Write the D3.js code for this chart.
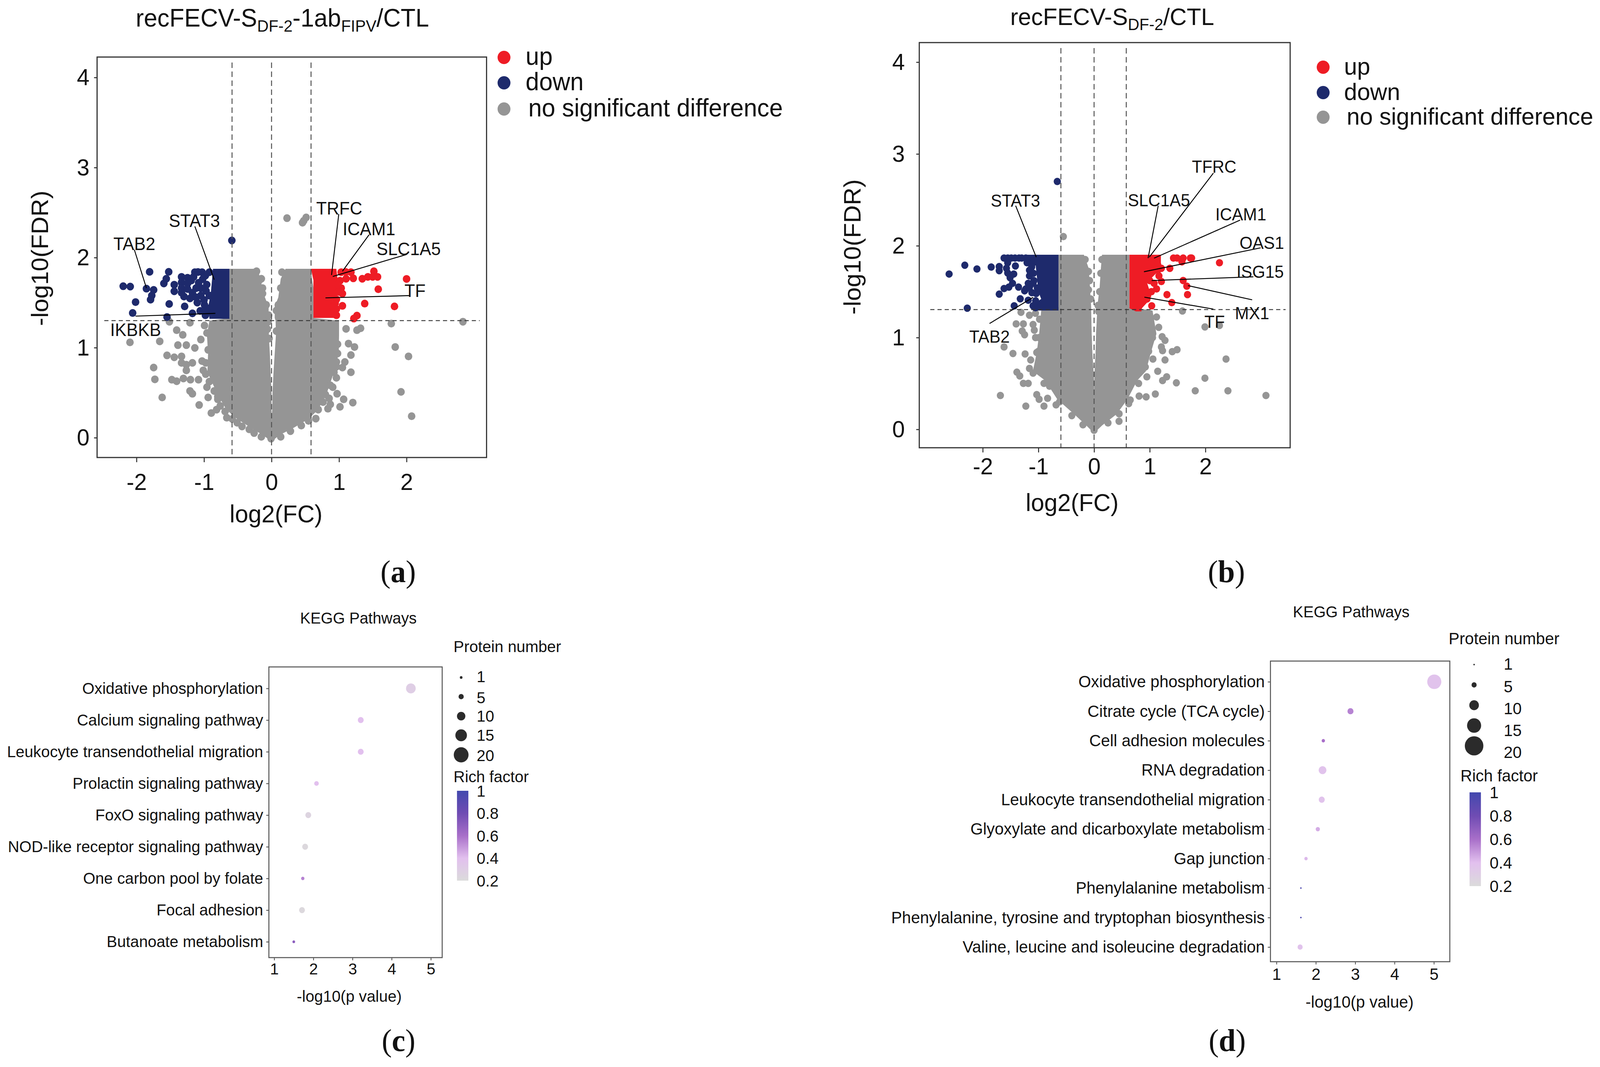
<!DOCTYPE html>
<html>
<head>
<meta charset="utf-8">
<script src="https://cdn.jsdelivr.net/npm/d3@7"></script>
<style>
html, body { margin: 0; padding: 0; background: #fff; overflow: hidden; }
svg { display: block; width: 100vw; height: 100vh; }
text { font-family: "Liberation Sans", Arial, sans-serif; fill: #111; }
</style>
</head>
<body>
<svg id="chart" viewBox="0 0 4219 2731" preserveAspectRatio="none"></svg>
<script>
//panel a: [log2FC, -log10FDR]
var downA = [[-2.197,1.682],[-2.093,1.678],[-1.806,1.842],[-1.523,1.842],[-1.853,1.655],[-1.746,1.641],[-1.774,1.578],[-1.792,1.533],[-2.014,1.506],[-2.057,1.385],[-1.516,1.485],[-1.548,1.34],[-1.559,1.765],[-1.595,1.713],[-1.441,1.699],[-1.441,1.626],[-1.287,1.458],[-1.172,1.381],[-1.057,1.408],[-1.1,1.5],[-1.208,1.547],[-1.297,1.568],[-1.333,1.786],[-1.333,1.724],[-1.333,1.661],[-1.333,1.61],[-1.244,1.776],[-1.244,1.713],[-1.244,1.651],[-1.19,1.745],[-1.136,1.838],[-1.029,1.838],[-0.921,1.838],[-1.154,1.786],[-1.047,1.661],[-1.047,1.578],[-0.993,1.475],[-0.921,1.578],[-1.118,1.661],[-1.172,1.61],[-0.588,2.19],[-1.02,1.76],[-0.96,1.7],[-0.95,1.4],[-0.98,1.36],[-1.09,1.84],[-0.98,1.8],[-1.08,1.72],[-0.97,1.63],[-1.0,1.53],[-1.12,1.56],[-0.96,1.44]];
var upA = [[2.0,1.763],[1.581,1.649],[1.821,1.458],[1.38,1.489],[1.05,1.464],[1.265,1.356],[1.219,1.323],[0.961,1.429],[1.516,1.848],[1.498,1.786],[1.57,1.786],[1.427,1.786],[1.344,1.765],[1.211,1.77],[1.104,1.765],[1.176,1.838],[1.032,1.838],[1.032,1.661],[1.05,1.6],[0.961,1.537],[0.943,1.495],[1.014,1.743],[0.996,1.62],[0.907,1.454],[0.907,1.381],[0.961,1.36],[1.1,1.84],[0.98,1.7]];
var nsA = [[0.229,2.438],[0.477,2.409],[0.513,2.446],[0.459,2.388],[2.835,1.288],[1.774,1.267],[1.832,1.007],[2.029,0.903],[1.918,0.509],[2.075,0.239],[1.319,1.215],[1.265,1.194],[1.104,1.209],[1.14,1.045],[1.229,1.007],[1.176,0.918],[1.176,0.727],[1.086,0.841],[0.961,0.841],[1.05,0.779],[0.961,0.789],[0.971,0.488],[1.068,0.426],[1.204,0.39],[1.014,0.343],[0.871,0.37],[0.835,0.322],[0.763,0.395],[0.656,0.212],[-2.097,1.059],[-1.656,1.07],[-1.405,1.194],[-1.315,1.142],[-1.387,1.028],[-1.262,1.028],[-1.208,1.277],[-1.513,1.288],[-1.548,0.914],[-1.441,0.893],[-1.333,0.903],[-1.333,0.831],[-1.262,0.81],[-1.172,0.831],[-1.262,0.748],[-1.746,0.779],[-1.728,0.648],[-1.477,0.644],[-1.405,0.627],[-1.305,0.658],[-1.201,0.644],[-1.082,0.644],[-1.208,0.519],[-1.172,0.488],[-1.62,0.447],[-1.072,0.363],[-0.939,0.447],[-0.892,0.274],[-0.814,0.312],[-0.663,0.222],[-1.047,1.09],[-1.136,0.997],[-1.029,0.851],[-0.975,0.706],[-0.796,0.426],
  //dots along the edge of the dense cloud
  [-0.222,1.848],[-0.186,1.745],[-0.151,1.765],[-0.133,1.661],[-0.133,1.6],[-0.079,1.475],[-0.043,1.36],[-0.05,1.288],[-0.061,1.205],[-0.036,1.101],[0.154,1.838],[0.136,1.661],[0.1,1.475],[0.072,1.412],[0.072,1.184],[0.978,1.038],[0.978,0.935],[0.925,0.727],[0.961,0.665],[0.907,0.561],[0.853,0.436],[0.871,0.582],[0.799,0.478],[0.692,0.312],[0.548,0.187],[0.441,0.135],[-0.993,1.246],[-0.957,1.163],[-0.939,0.976],[-0.975,0.831],[-1.011,0.748],[-0.957,0.561],[-0.921,0.623],[-0.849,0.519],[-0.796,0.457],[-0.76,0.353],[-0.688,0.291],[-0.581,0.208],[-0.509,0.166],[-0.437,0.125],[-0.33,0.093],[-0.258,0.052],[-0.151,0.01],[-0.007,-0.01],[0.136,0.01],[0.28,0.073]];
//dense cloud where single dots cannot be read: [y, outer left, inner left, inner right, outer right]
var nsRowsA = [[1.875,-0.624,-0.204,0.208,0.584],[1.765,-0.624,-0.168,0.136,0.6],[1.661,-0.624,-0.133,0.118,0.62],[1.558,-0.624,-0.097,0.1,0.62],[1.454,-0.624,-0.043,0.047,0.62],[1.329,-0.624,-0.043,0.047,0.62],[1.3,-0.92,-0.03,0.06,1.0],[1.142,-0.957,-0.04,0.065,1.0],[0.935,-0.94,-0.025,0.047,0.996],[0.727,-0.95,-0.014,0.029,0.925],[0.498,-0.81,0,0.014,0.82],[0.312,-0.67,0,0.01,0.69],[0.208,-0.51,0,0,0.55],[0.104,-0.294,0,0,0.315],[0.03,-0.13,0,0,0.118],[-0.03,-0.02,0,0,0.02]];
var downRowsA = [[1.875,-0.867,-0.624],[1.6,-0.9,-0.624],[1.45,-0.939,-0.624],[1.32,-0.92,-0.624]];
var upRowsA = [[1.875,0.584,0.96],[1.75,0.62,0.98],[1.6,0.62,1.0],[1.52,0.62,0.9],[1.42,0.62,0.9],[1.33,0.62,0.98]];
//gene, label x, label y, line start x, line start y, line end x, line end y
var genesA = [["TAB2",-2.032,2.156,-2.032,2.087,-1.853,1.661],["STAT3",-1.143,2.409,-1.136,2.347,-0.849,1.755],["TRFC",1.003,2.55,0.996,2.482,0.889,1.807],["ICAM1",1.444,2.319,1.444,2.253,1.05,1.848],["SLC1A5",2.03,2.098,2.0,2.035,0.907,1.79],["TF",2.125,1.636,2.054,1.578,0.799,1.553],["IKBKB",-2.014,1.201,-2.014,1.35,-0.832,1.381]];

//panel b
var downB = [[-0.661,2.7],[-2.604,1.692],[-2.322,1.788],[-2.104,1.747],[-1.848,1.768],[-1.704,1.774],[-1.704,1.729],[-1.574,1.754],[-1.552,1.703],[-1.413,1.78],[-1.509,1.652],[-1.465,1.591],[-1.617,1.534],[-1.704,1.473],[-1.53,1.55],[-1.326,1.422],[-1.435,1.346],[-2.278,1.32],[-1.183,1.407],[-1.357,1.55],[-1.226,1.53],[-1.617,1.866],[-1.487,1.866],[-1.348,1.866],[-1.226,1.866],[-1.161,1.733],[-1.161,1.672],[-1.096,1.591],[-1.183,1.591],[-1.248,1.509],[-1.117,1.489],[-1.096,1.346],[-1.052,1.326],[-1.096,1.815],[-1.204,1.815],[-1.552,1.815],[-1.443,1.692],[-1.55,1.866],[-1.42,1.866],[-1.3,1.866],[-1.16,1.55],[-1.05,1.4],[-1.12,1.77],[-1.09,1.7],[-1.08,1.62],[-1.04,1.48],[-1.02,1.54]];
var upB = [[2.252,1.815],[1.426,1.866],[1.491,1.866],[1.6,1.866],[1.73,1.866],[1.752,1.866],[1.578,1.825],[1.361,1.754],[1.6,1.621],[1.665,1.56],[1.678,1.468],[1.309,1.468],[1.396,1.381],[1.035,1.346],[1.209,1.611],[1.122,1.53],[1.165,1.672],[1.078,1.591],[1.143,1.733],[1.209,1.754],[1.143,1.794],[1.0,1.62],[1.03,1.5],[0.95,1.42]];
var nsB = [[-0.552,2.1],[1.587,1.289],[1.991,1.116],[2.252,1.132],[0.078,1.285],[2.37,0.766],[1.991,0.558],[1.817,0.42],[2.404,0.42],[3.087,0.369],[1.478,0.507],[1.304,0.572],[1.23,0.532],[1.1,0.385],[0.935,0.354],[0.809,0.363],[0.448,0.088],[0.622,0.281],[1.274,0.756],[1.057,0.766],[1.491,0.868],[1.404,0.847],[1.23,0.857],[1.209,0.898],[1.274,0.969],[1.222,1.01],[1.161,1.112],[1.122,1.224],[1.143,0.633],[0.948,0.572],[-1.313,1.275],[-1.161,1.244],[-1.052,1.265],[-1.4,1.149],[-1.27,1.149],[-1.291,1.071],[-1.248,1.031],[-1.096,1.143],[-1.074,1.081],[-1.052,1],[-1.617,0.898],[-1.457,0.827],[-1.239,0.821],[-1.03,0.837],[-1.139,0.756],[-1.161,0.664],[-1.096,0.613],[-1.387,0.623],[-1.335,0.582],[-1.27,0.501],[-1.183,0.501],[-0.9,0.501],[-1.683,0.369],[-1.03,0.379],[-0.987,0.328],[-1.226,0.253],[-0.9,0.253],[-0.683,0.267],[-0.835,0.338],
  //dots along the edge of the dense cloud
  [-0.16,1.85],[-0.1,1.72],[-0.08,1.62],[-0.1,1.52],[-0.06,1.42],[0.14,1.85],[0.12,1.7],[0.1,1.5],[0.07,1.35],[1.0,1.18],[1.05,1.0],[0.98,0.85],[0.92,0.68],[0.8,0.5],[0.65,0.32],[0.45,0.17],[0.25,0.07],[-0.98,1.2],[-0.99,1.0],[-1.0,0.85],[-0.95,0.65],[-0.8,0.47],[-0.62,0.3],[-0.4,0.15],[-0.2,0.05],[0,-0.01]];
var nsRowsB = [[1.902,-0.639,-0.183,0.143,0.635],[1.754,-0.639,-0.096,0.122,0.635],[1.55,-0.639,-0.074,0.1,0.635],[1.33,-0.639,-0.052,0.057,0.635],[1.295,-0.95,-0.052,0.057,1.05],[1.04,-0.987,-0.043,0.035,1.12],[0.837,-1.03,-0.03,0.026,1.02],[0.633,-1.1,-0.009,0.009,0.93],[0.532,-0.878,0,0.005,0.774],[0.328,-0.661,0,0,0.6],[0.165,-0.357,0,0,0.404],[0.043,-0.14,0,0,0.143],[-0.03,-0.02,0,0,0.02]];
var downRowsB = [[1.902,-1.25,-0.639],[1.82,-1.25,-0.639],[1.79,-1.05,-0.639],[1.5,-1.0,-0.639],[1.42,-0.95,-0.639],[1.36,-1.1,-0.639],[1.295,-1.1,-0.639]];
var upRowsB = [[1.902,0.635,1.2],[1.75,0.635,1.2],[1.6,0.635,0.95],[1.45,0.635,1.03],[1.38,0.635,0.95],[1.32,0.635,0.86],[1.285,0.75,0.85]];
var genesB = [["STAT3",-1.413,2.491,-1.409,2.436,-1.039,1.876],["TAB2",-1.878,1.01,-1.878,1.153,-1.096,1.438],["SLC1A5",1.165,2.497,1.152,2.436,0.97,1.865],["TFRC",2.157,2.864,2.143,2.792,0.991,1.876],["ICAM1",2.635,2.344,2.622,2.279,1.078,1.865],["OAS1",3.013,2.033,2.991,1.977,0.896,1.717],["ISG15",2.983,1.719,2.861,1.662,1.035,1.621],["MX1",2.839,1.269,2.839,1.411,1.687,1.566],["TF",2.165,1.173,2.143,1.31,0.904,1.44]];

var volcanoXTicks = [-2,-1,0,1,2];
var volcanoYTicks = [0,1,2,3,4];
var legendNames = ["up","down","no significant difference"];

//panel c
var pathwaysC = ["Oxidative phosphorylation","Calcium signaling pathway","Leukocyte transendothelial migration","Prolactin signaling pathway","FoxO signaling pathway","NOD-like receptor signaling pathway","One carbon pool by folate","Focal adhesion","Butanoate metabolism"];
var pValueC = [4.49,3.21,3.21,2.08,1.87,1.79,1.73,1.71,1.5];
var proteinC = [12,6,6,4,6,6,2,6,1];
var richC = [0.3,0.4,0.4,0.4,0.25,0.22,0.55,0.22,0.7];

//panel d
var pathwaysD = ["Oxidative phosphorylation","Citrate cycle (TCA cycle)","Cell adhesion molecules","RNA degradation","Leukocyte transendothelial migration","Glyoxylate and dicarboxylate metabolism","Gap junction","Phenylalanine metabolism","Phenylalanine, tyrosine and tryptophan biosynthesis","Valine, leucine and isoleucine degradation"];
var pValueD = [5.01,2.88,2.19,2.17,2.15,2.05,1.75,1.62,1.62,1.6];
var proteinD = [15,6,3,8,6,4,3,1,1,5];
var richD = [0.38,0.55,0.6,0.38,0.38,0.45,0.42,0.95,0.95,0.38];

var bubbleXTicks = [1,2,3,4,5];
var sizeLegend = [1,5,10,15,20];
var richLegend = [1,0.8,0.6,0.4,0.2];

var RED = "#ee1c25", NAVY = "#1e2a6c", GRAY = "#959595";

var svg = d3.select("#chart");
svg.append("rect").attr("width", 4219).attr("height", 2731).attr("fill", "#fff");

var richColor = d3.scaleLinear()
    .domain([0.2, 0.4, 0.6, 0.8, 1])
    .range(["#dbdbdb", "#e2c0ee", "#a86fc9", "#6f4cb3", "#4349ae"]);


function drawVolcano(c) {
    var g = svg.append("g");
    var x = d3.scaleLinear().domain(c.xDomain).range([c.box.l, c.box.r]);
    var y = d3.scaleLinear().domain(c.yDomain).range([c.box.b, c.box.t]);

    //the dense cloud
    var leftArm = d3.area().y(d => y(d[0])).x0(d => x(d[1])).x1(d => x(d[2]));
    var rightArm = d3.area().y(d => y(d[0])).x0(d => x(d[3])).x1(d => x(d[4]));
    var block = d3.area().y(d => y(d[0])).x0(d => x(d[1])).x1(d => x(d[2]));
    g.append("path").attr("d", leftArm(c.nsRows)).attr("fill", GRAY);
    g.append("path").attr("d", rightArm(c.nsRows)).attr("fill", GRAY);

    function dots(data, color) {
        g.append("g").selectAll("circle").data(data).enter().append("circle")
            .attr("cx", d => x(d[0]))
            .attr("cy", d => y(d[1]))
            .attr("r", c.r)
            .attr("fill", color);
    }
    dots(c.ns, GRAY);
    g.append("path").attr("d", block(c.downRows)).attr("fill", NAVY);
    g.append("path").attr("d", block(c.upRows)).attr("fill", RED);
    dots(c.down, NAVY);
    dots(c.up, RED);

    //threshold lines
    c.vLines.forEach(function(v) {
        g.append("line").attr("x1", x(v)).attr("x2", x(v))
            .attr("y1", c.box.t + 14).attr("y2", c.box.b)
            .attr("stroke", "#555").attr("stroke-width", 2.6).attr("stroke-dasharray", "14 9");
    });
    g.append("line").attr("x1", c.hFrom).attr("x2", c.hTo)
        .attr("y1", y(c.hLine)).attr("y2", y(c.hLine))
        .attr("stroke", "#333").attr("stroke-width", 2.4).attr("stroke-dasharray", "11 8");

    //axes
    var xAxis = d3.axisBottom(x).tickValues(volcanoXTicks).tickSize(12).tickPadding(c.xPad).tickFormat(d => String(d));
    var yAxis = d3.axisLeft(y).tickValues(volcanoYTicks).tickSize(8).tickPadding(c.yPad).tickFormat(d => String(d));
    var ax = g.append("g").attr("transform", "translate(0," + c.box.b + ")").call(xAxis);
    var ay = g.append("g").attr("transform", "translate(" + c.box.l + ",0)").call(yAxis);
    [ax, ay].forEach(function(a) {
        a.select(".domain").remove();
        a.selectAll("line").attr("stroke", "#222").attr("stroke-width", 2.4);
        a.selectAll("text").style("font-family", "Liberation Sans").style("font-size", "60px").attr("fill", "#111");
    });
    g.append("rect").attr("x", c.box.l).attr("y", c.box.t)
        .attr("width", c.box.r - c.box.l).attr("height", c.box.b - c.box.t)
        .attr("fill", "none").attr("stroke", "#333").attr("stroke-width", 3);

    //gene labels
    c.genes.forEach(function(d) {
        g.append("line").attr("x1", x(d[3])).attr("y1", y(d[4])).attr("x2", x(d[5])).attr("y2", y(d[6]))
            .attr("stroke", "#000").attr("stroke-width", 2.4);
        g.append("text").attr("x", x(d[1])).attr("y", y(d[2])).attr("dy", "0.36em")
            .attr("text-anchor", "middle").style("font-size", c.geneFont + "px").text(d[0]);
    });

    //titles
    var t = g.append("text").attr("x", c.title.x).attr("y", c.title.y).style("font-size", c.font + "px");
    c.title.parts.forEach(function(p) {
        t.append("tspan").text(p[0])
            .style("font-size", p[1] ? "42px" : c.font + "px")
            .attr("dy", p[1] ? 13 : (p[2] ? -13 : 0));
    });
    g.append("text").attr("x", c.xLabel.x).attr("y", c.xLabel.y).attr("text-anchor", "middle")
        .style("font-size", "63px").text("log2(FC)");
    g.append("text").attr("transform", "translate(" + c.yLabel.x + "," + c.yLabel.y + ") rotate(-90)")
        .attr("text-anchor", "middle").style("font-size", "63px").text("-log10(FDR)");

    //legend
    var colors = [RED, NAVY, GRAY];
    legendNames.forEach(function(name, i) {
        g.append("circle").attr("cx", c.legend.x).attr("cy", c.legend.y[i]).attr("r", 17).attr("fill", colors[i]);
        g.append("text").attr("x", c.legend.tx[i]).attr("y", c.legend.y[i]).attr("dy", "0.3em")
            .style("font-size", c.font + "px").text(name);
    });
}


function drawBubble(c) {
    var g = svg.append("g");
    var x = d3.scaleLinear().domain(c.xDomain).range([c.box.l, c.box.r]);
    var y = d3.scalePoint().domain(c.pathways).range([c.yFrom, c.yTo]);
    var size = d3.scaleLinear().domain([1, 20]).range(c.sizeRange);

    var xAxis = d3.axisBottom(x).tickValues(bubbleXTicks).tickSize(7).tickPadding(c.xPad).tickFormat(d => String(d));
    var yAxis = d3.axisLeft(y).tickSize(7).tickPadding(c.yPad);
    var ax = g.append("g").attr("transform", "translate(0," + c.box.b + ")").call(xAxis);
    var ay = g.append("g").attr("transform", "translate(" + c.box.l + ",0)").call(yAxis);
    [ax, ay].forEach(function(a) {
        a.select(".domain").remove();
        a.selectAll("line").attr("stroke", "#444").attr("stroke-width", 2);
        a.selectAll("text").style("font-family", "Liberation Sans").style("font-size", c.font + "px").attr("fill", "#111");
    });
    g.append("rect").attr("x", c.box.l).attr("y", c.box.t)
        .attr("width", c.box.r - c.box.l).attr("height", c.box.b - c.box.t)
        .attr("fill", "none").attr("stroke", "#555").attr("stroke-width", 2.6);

    g.append("g").selectAll("circle").data(c.pathways).enter().append("circle")
        .attr("cx", (d, i) => x(c.pValue[i]))
        .attr("cy", d => y(d))
        .attr("r", (d, i) => size(c.protein[i]))
        .attr("fill", (d, i) => richColor(c.rich[i]));

    g.append("text").attr("x", c.title.x).attr("y", c.title.y).attr("text-anchor", "middle")
        .style("font-size", "41px").text("KEGG Pathways");
    g.append("text").attr("x", c.xLabel.x).attr("y", c.xLabel.y).attr("text-anchor", "middle")
        .style("font-size", c.font + "px").text("-log10(p value)");

    //size legend
    g.append("text").attr("x", c.sizeTitle.x).attr("y", c.sizeTitle.y).style("font-size", c.font + "px").text("Protein number");
    sizeLegend.forEach(function(s, i) {
        g.append("circle").attr("cx", c.sizeDots.x).attr("cy", c.sizeDots.y[i]).attr("r", size(s)).attr("fill", "#2b2b2b");
        g.append("text").attr("x", c.sizeDots.tx).attr("y", c.sizeDots.ty[i]).attr("dy", "0.36em")
            .style("font-size", c.font + "px").text(s);
    });

    //colour legend
    g.append("text").attr("x", c.richTitle.x).attr("y", c.richTitle.y).style("font-size", c.font + "px").text("Rich factor");
    var gradId = "rich" + c.id;
    var grad = svg.append("defs").append("linearGradient").attr("id", gradId)
        .attr("x1", 0).attr("y1", 0).attr("x2", 0).attr("y2", 1);
    richLegend.forEach(function(r, i) {
        grad.append("stop").attr("offset", (i * 25) + "%").attr("stop-color", richColor(r));
    });
    var bar = d3.scaleLinear().domain([0.2, 1]).range(c.bar.y);
    g.append("rect").attr("x", c.bar.x).attr("y", bar(1)).attr("width", 30)
        .attr("height", bar(0.2) - bar(1)).attr("fill", "url(#" + gradId + ")");
    richLegend.forEach(function(r) {
        g.append("text").attr("x", c.bar.tx).attr("y", bar(r)).attr("dy", "0.36em")
            .style("font-size", c.font + "px").text(r);
    });
}


drawVolcano({
    box: {l: 256, r: 1283, t: 146, b: 1171},
    xDomain: [-2.584, 3.185], yDomain: [-0.22, 4.227], r: 10, font: 64,
    ns: nsA, nsRows: nsRowsA, down: downA, up: upA, downRows: downRowsA, upRows: upRowsA, genes: genesA,
    vLines: [-0.585, 0, 0.585], hLine: 1.3, hFrom: 275, hTo: 1265,
    xPad: 28, yPad: 12, geneFont: 45.5,
    title: {x: 358, y: 68, parts: [["recFECV-S"], ["DF-2", true], ["-1ab", false, true], ["FIPV", true], ["/CTL", false, true]]},
    xLabel: {x: 728, y: 1337}, yLabel: {x: 127, y: 661},
    legend: {x: 1329, y: [147, 212, 279], tx: [1386, 1386, 1393]}
});

drawVolcano({
    box: {l: 2424, r: 3402, t: 109, b: 1146},
    xDomain: [-3.14, 3.522], yDomain: [-0.2, 4.213], r: 9.5, font: 62,
    ns: nsB, nsRows: nsRowsB, down: downB, up: upB, downRows: downRowsB, upRows: upRowsB, genes: genesB,
    vLines: [-0.596, 0, 0.578], hLine: 1.305, hFrom: 2453, hTo: 3390,
    xPad: 13, yPad: 30, geneFont: 44,
    title: {x: 2664, y: 64, parts: [["recFECV-S"], ["DF-2", true], ["/CTL", false, true]]},
    xLabel: {x: 2827, y: 1308}, yLabel: {x: 2269, y: 632},
    legend: {x: 3489, y: [172, 237, 300], tx: [3544, 3544, 3551]}
});

drawBubble({
    id: "c", box: {l: 709, r: 1166, t: 1707, b: 2451}, xDomain: [0.864, 5.29],
    pathways: pathwaysC, pValue: pValueC, protein: proteinC, rich: richC,
    yFrom: 1762, yTo: 2410.5, sizeRange: [3.5, 19.5], font: 41.5, xPad: 7, yPad: 8,
    title: {x: 945, y: 1596}, xLabel: {x: 921, y: 2564},
    sizeTitle: {x: 1196, y: 1669}, sizeDots: {x: 1216, y: [1734, 1783, 1833, 1882, 1932], tx: 1257, ty: [1731, 1785, 1832, 1881, 1933]},
    richTitle: {x: 1196, y: 2002}, bar: {x: 1205, y: [2254, 2024], tx: 1257}
});

drawBubble({
    id: "d", box: {l: 3350, r: 3823, t: 1692, b: 2461.5}, xDomain: [0.846, 5.405],
    pathways: pathwaysD, pValue: pValueD, protein: proteinD, rich: richD,
    yFrom: 1745, yTo: 2424, sizeRange: [2, 24.5], font: 42.7, xPad: 9, yPad: 8,
    title: {x: 3563, y: 1580}, xLabel: {x: 3585, y: 2579},
    sizeTitle: {x: 3820, y: 1649}, sizeDots: {x: 3887, y: [1701, 1753, 1805, 1857, 1909], tx: 3965, ty: [1699, 1757, 1813, 1869, 1925]},
    richTitle: {x: 3851, y: 2000}, bar: {x: 3875, y: [2268, 2028], tx: 3928}
});

//panel letters
var panelLetters = ["a", "b", "c", "d"];
var letterX = [1050, 3234, 1051, 3236];
var letterY = [1490, 1490, 2690, 2690];
panelLetters.forEach(function(l, i) {
    var t = svg.append("text").attr("x", letterX[i]).attr("y", letterY[i]).attr("text-anchor", "middle")
        .style("font-family", "Liberation Serif").style("font-size", "80px");
    t.append("tspan").text("(");
    t.append("tspan").style("font-weight", "bold").text(l);
    t.append("tspan").text(")");
});
</script>
</body>
</html>
